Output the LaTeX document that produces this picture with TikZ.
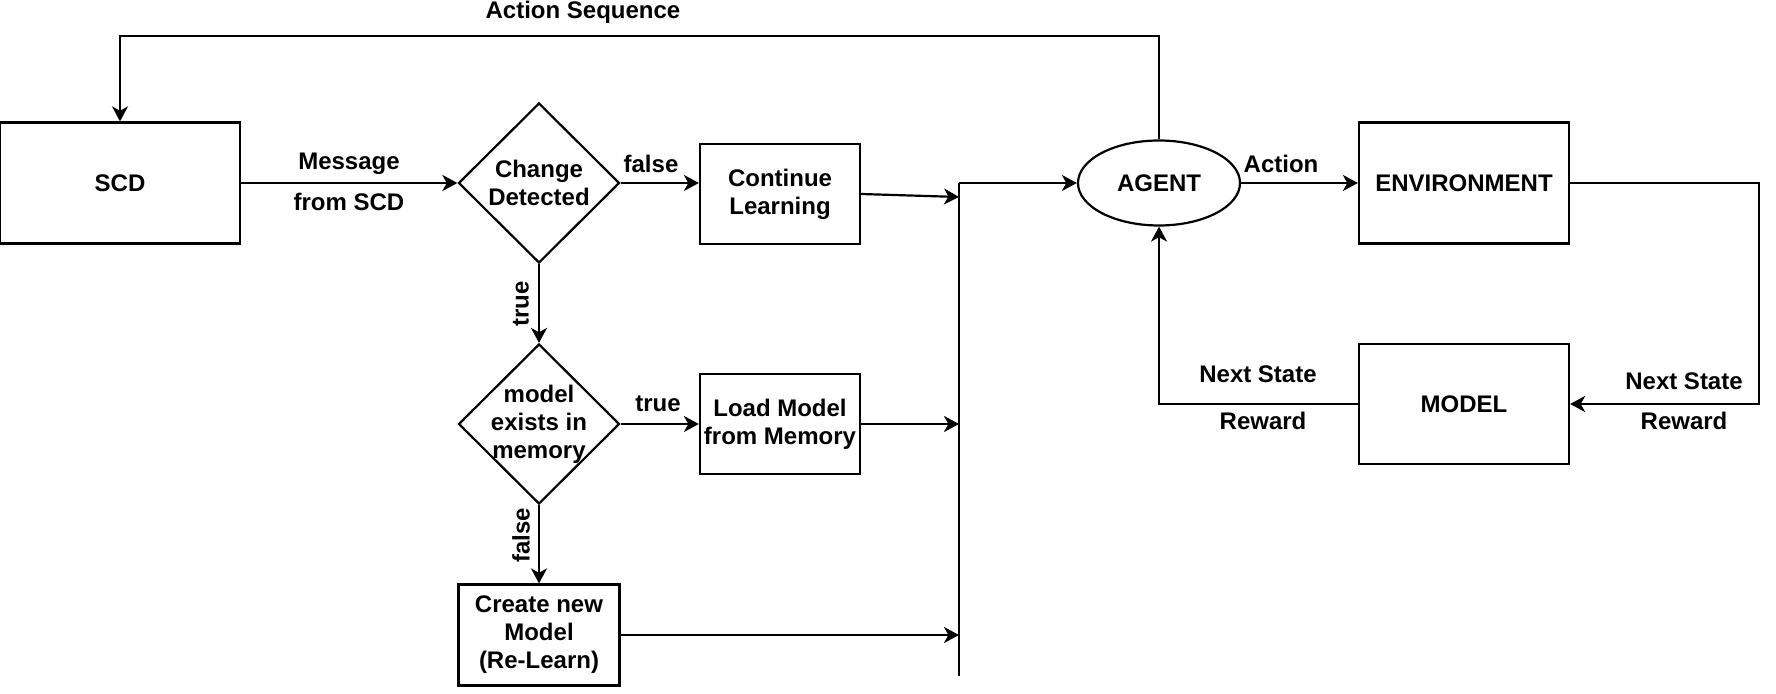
\documentclass[tikz,border=0pt]{standalone}
\usepackage{fontspec}
\setmainfont{Liberation Sans}
\usetikzlibrary{arrows.meta,shapes.geometric}
\begin{document}
\begin{tikzpicture}[x=0.5pt,y=-0.5pt,
  font=\bfseries\fontsize{12}{14}\selectfont,
  line width=1.1pt,
  >={Stealth[length=7.5pt,width=8pt,inset=2.2pt]},
  box/.style={draw,align=center,inner sep=0pt},
  dia/.style={draw,diamond,aspect=1,align=center,inner sep=0pt,minimum width=80.5pt,minimum height=80pt},
  lbl/.style={inner sep=0pt,align=center}]
\useasboundingbox (0,0) rectangle (1776,694);
% nodes
\node[box,minimum width=120pt,minimum height=60.5pt] (scd) at (120,183) {SCD};
\node[dia] (d1) at (539,183) {Change\\Detected};
\node[box,minimum width=80pt,minimum height=50pt] (cont) at (780,194) {Continue\\Learning};
\node[draw,ellipse,inner sep=0pt,minimum width=81pt,minimum height=42.5pt] (agent) at (1159,183) {AGENT};
\node[box,minimum width=105pt,minimum height=60.5pt] (env) at (1464,183) {ENVIRONMENT};
\node[box,minimum width=105pt,minimum height=60pt] (model) at (1464,404) {MODEL};
\node[dia,inner sep=-4pt] (d2) at (539,424) {model\\exists in\\memory};
\node[box,minimum width=80pt,minimum height=50pt] (load) at (780,424) {Load Model\\from Memory};
\node[box,minimum width=80.5pt,minimum height=50.5pt] (create) at (539,635) {Create new\\Model\\(Re-Learn)};
% coordinates
\coordinate (topR) at (1159,36);
\coordinate (bustop) at (959,183);
\coordinate (busbot) at (959,676);
\coordinate (bin1) at (959,197);
\coordinate (rc) at (1759,183);
% labels
\node[lbl] (las) at (583,12) {Action Sequence};
\node[lbl] (lmsg1) at (349,164) {Message};
\node[lbl] (lmsg2) at (349,202) {from SCD};
\node[lbl] (lf1) at (651,164) {false};
\node[lbl,rotate=90] (lt1) at (521,304) {true};
\node[lbl] (lt2) at (658,404) {true};
\node[lbl,rotate=90] (lf2) at (521,535) {false};
\node[lbl] (lact) at (1281,164) {Action};
\node[lbl] (lns1) at (1684,381) {Next State};
\node[lbl] (lrw1) at (1684,421) {Reward};
\node[lbl] (lns2) at (1258,374) {Next State};
\node[lbl] (lrw2) at (1263,421) {Reward};
% connectors
\draw[->] (agent.north) -- (topR) -| (scd.north);
\draw[->] (scd.east) -- (d1.west);
\draw[->] (d1.east) -- (d1.east -| cont.west);
\draw[->] (cont.east) -- (bin1);
\draw (bustop) -- (busbot);
\draw[->] (bustop) -- (agent.west);
\draw[->] (agent.east) -- (env.west);
\draw[->] (env.east) -- (rc) |- (model.east);
\draw[->] (model.west) -| (agent.south);
\draw[->] (d1.south) -- (d2.north);
\draw[->] (d2.east) -- (load.west);
\draw[->] (load.east) -- (load.east -| bustop);
\draw[->] (d2.south) -- (create.north);
\draw[->] (create.east) -- (create.east -| bustop);
\end{tikzpicture}
\end{document}
